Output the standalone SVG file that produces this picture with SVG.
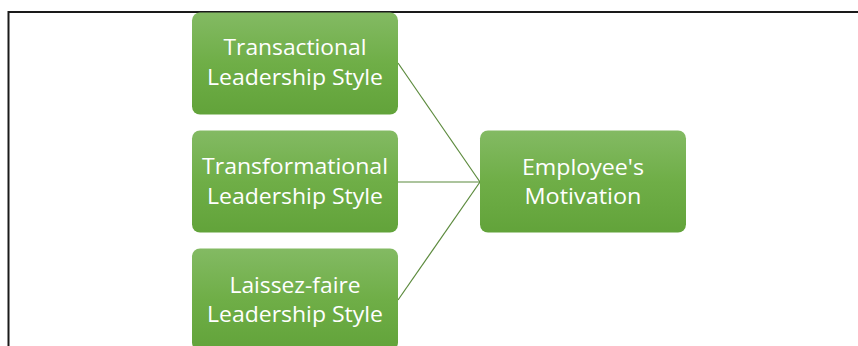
<svg xmlns="http://www.w3.org/2000/svg" width="858" height="346" viewBox="0 0 858 346">
  <defs>
    <linearGradient id="boxFill" x1="0" y1="0" x2="0" y2="1">
      <stop offset="0" stop-color="#83ba63"/>
      <stop offset="0.5" stop-color="#6fae47"/>
      <stop offset="1" stop-color="#62a33a"/>
    </linearGradient>
    <style>
      .box { fill: url(#boxFill); }
      .label { font-family: "Open Sans", "Noto Sans", "Liberation Sans", sans-serif; font-size: 22px; fill: #ffffff; text-anchor: middle; }
      .link { stroke: #5b8a3c; stroke-width: 1.2; fill: none; }
      .frame { stroke: #1a1a1a; stroke-width: 2; fill: none; }
    </style>
  </defs>

  <rect width="858" height="346" fill="#ffffff"/>
  <!-- page frame -->
  <path class="frame" d="M8.5 346 V12 H858"/>

  <g id="connectors">
    <line class="link" x1="398" y1="63" x2="480" y2="182"/>
    <line class="link" x1="398" y1="182" x2="480" y2="182"/>
    <line class="link" x1="398" y1="300" x2="480" y2="182"/>
  </g>

  <g id="transactional">
    <rect class="box" x="192" y="12.5" width="206" height="102" rx="8"/>
    <text class="label" x="295" y="55" textLength="143" lengthAdjust="spacingAndGlyphs">Transactional</text>
    <text class="label" x="295" y="85" textLength="176" lengthAdjust="spacingAndGlyphs">Leadership Style</text>
  </g>

  <g id="transformational">
    <rect class="box" x="192" y="130.5" width="206" height="102" rx="8"/>
    <text class="label" x="295" y="173.5" textLength="186" lengthAdjust="spacingAndGlyphs">Transformational</text>
    <text class="label" x="295" y="203.5" textLength="176" lengthAdjust="spacingAndGlyphs">Leadership Style</text>
  </g>

  <g id="laissez-faire">
    <rect class="box" x="192" y="248.5" width="206" height="102" rx="8"/>
    <text class="label" x="295" y="292.5" textLength="131" lengthAdjust="spacingAndGlyphs">Laissez-faire</text>
    <text class="label" x="295" y="322" textLength="176" lengthAdjust="spacingAndGlyphs">Leadership Style</text>
  </g>

  <g id="motivation">
    <rect class="box" x="480" y="130.5" width="206" height="102" rx="8"/>
    <text class="label" x="583" y="175" textLength="122" lengthAdjust="spacingAndGlyphs">Employee's</text>
    <text class="label" x="583" y="203.5" textLength="117" lengthAdjust="spacingAndGlyphs">Motivation</text>
  </g>
</svg>
